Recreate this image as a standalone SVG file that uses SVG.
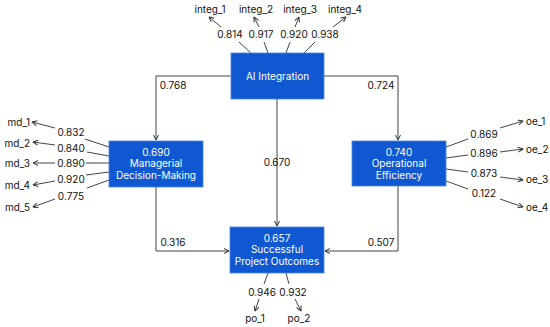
<svg xmlns="http://www.w3.org/2000/svg" width="550" height="327" viewBox="0 0 550 327">
<style>
.box{fill:#0f58d2;stroke:#4a86e4;stroke-width:0.8}
.bt{fill:#fff;font-family:Inter,"Liberation Sans",sans-serif;font-size:10px;text-anchor:middle}
.lb{fill:#111;font-family:Inter,"Liberation Sans",sans-serif;font-size:10px;text-anchor:middle}
.c{fill:none;stroke:#444;stroke-width:1}
</style>
<defs>
<marker id="ah" viewBox="0 0 6 6" refX="5.5" refY="3" markerWidth="6" markerHeight="6" orient="auto" markerUnits="userSpaceOnUse">
<path d="M0.5,0.5 L5.5,3 L0.5,5.5" fill="none" stroke="#333" stroke-width="1"/>
</marker>
</defs>
<rect width="550" height="327" fill="#fff"/>
<g id="connectors">
<path class="c" d="M231,76 H156 V140" marker-end="url(#ah)"/>
<path class="c" d="M324,76 H398 V140" marker-end="url(#ah)"/>
<path class="c" d="M277,99 V226" marker-end="url(#ah)"/>
<path class="c" d="M156,187 V251 H229" marker-end="url(#ah)"/>
<path class="c" d="M398,186 V251 H325" marker-end="url(#ah)"/>
<text class="lb" x="173" y="89">0.768</text>
<text class="lb" x="381" y="89">0.724</text>
<text class="lb" x="277" y="166">0.670</text>
<text class="lb" x="173" y="246">0.316</text>
<text class="lb" x="381" y="246">0.507</text>
</g>
<g id="indicators">
<path class="c" d="M251,53 L239,42 M221,27 L209,17" marker-end="url(#ah)"/>
<path class="c" d="M268,53 L264,42 M259,27 L254,17" marker-end="url(#ah)"/>
<path class="c" d="M286,53 L290,42 M295,27 L299,17" marker-end="url(#ah)"/>
<path class="c" d="M304,53 L315,42 M333,27 L346,17" marker-end="url(#ah)"/>
<text class="lb" x="230" y="37.5">0.814</text>
<text class="lb" x="261" y="37.5">0.917</text>
<text class="lb" x="294" y="37.5">0.920</text>
<text class="lb" x="325" y="37.5">0.938</text>
<text class="lb" x="210" y="13">integ_1</text>
<text class="lb" x="256" y="13">integ_2</text>
<text class="lb" x="300" y="13">integ_3</text>
<text class="lb" x="345" y="13">integ_4</text>

<path class="c" d="M109,147 L85,139 M55,128 L32,122" marker-end="url(#ah)"/>
<path class="c" d="M109,156 L87,152 M55,145 L33,142" marker-end="url(#ah)"/>
<path class="c" d="M109,163 L86,163 M55,163 L33,163" marker-end="url(#ah)"/>
<path class="c" d="M109,172 L86,175 M55,181 L33,185" marker-end="url(#ah)"/>
<path class="c" d="M109,180 L87,188 M55,199 L33,207" marker-end="url(#ah)"/>
<text class="lb" x="71" y="135.5">0.832</text>
<text class="lb" x="71" y="151.5">0.840</text>
<text class="lb" x="71" y="166.5">0.890</text>
<text class="lb" x="71" y="182.5">0.920</text>
<text class="lb" x="71" y="199.5">0.775</text>
<text class="lb" x="30" y="125.5" style="text-anchor:end">md_1</text>
<text class="lb" x="30" y="146.5" style="text-anchor:end">md_2</text>
<text class="lb" x="30" y="166.5" style="text-anchor:end">md_3</text>
<text class="lb" x="30" y="189" style="text-anchor:end">md_4</text>
<text class="lb" x="30" y="210.5" style="text-anchor:end">md_5</text>

<path class="c" d="M446,147 L468,139 M500,128 L523,121" marker-end="url(#ah)"/>
<path class="c" d="M446,158 L468,155 M500,152 L523,149" marker-end="url(#ah)"/>
<path class="c" d="M446,169 L468,172 M500,177 L523,180" marker-end="url(#ah)"/>
<path class="c" d="M446,181 L468,189 M500,199 L523,207" marker-end="url(#ah)"/>
<text class="lb" x="484" y="137.5">0.869</text>
<text class="lb" x="484" y="156.5">0.896</text>
<text class="lb" x="484" y="177">0.873</text>
<text class="lb" x="484" y="196.5">0.122</text>
<text class="lb" x="526" y="124.5" style="text-anchor:start">oe_1</text>
<text class="lb" x="526" y="153" style="text-anchor:start">oe_2</text>
<text class="lb" x="526" y="183" style="text-anchor:start">oe_3</text>
<text class="lb" x="526" y="210.5" style="text-anchor:start">oe_4</text>

<path class="c" d="M268,273 L264,284 M259,299 L255,311" marker-end="url(#ah)"/>
<path class="c" d="M286,273 L289,284 M295,299 L301,311" marker-end="url(#ah)"/>
<text class="lb" x="262" y="295.5">0.946</text>
<text class="lb" x="293" y="295.5">0.932</text>
<text class="lb" x="255" y="321.5">po_1</text>
<text class="lb" x="299" y="321.5">po_2</text>
</g>
<g id="ai-integration">
<rect class="box" x="231" y="53" width="93" height="46"/>
<text class="bt" x="277.5" y="79.5">AI Integration</text>
</g>
<g id="managerial-decision-making">
<rect class="box" x="109" y="141" width="94" height="46"/>
<text class="bt" x="156" y="155.5">0.690</text>
<text class="bt" x="156" y="167">Managerial</text>
<text class="bt" x="156" y="178.5">Decision-Making</text>
</g>
<g id="operational-efficiency">
<rect class="box" x="352" y="141" width="94" height="45"/>
<text class="bt" x="399" y="155.5">0.740</text>
<text class="bt" x="399" y="167">Operational</text>
<text class="bt" x="399" y="178.5">Efficiency</text>
</g>
<g id="successful-project-outcomes">
<rect class="box" x="230" y="227" width="94" height="46"/>
<text class="bt" x="277" y="241.5">0.657</text>
<text class="bt" x="277" y="253">Successful</text>
<text class="bt" x="277" y="264.5">Project Outcomes</text>
</g>
</svg>
